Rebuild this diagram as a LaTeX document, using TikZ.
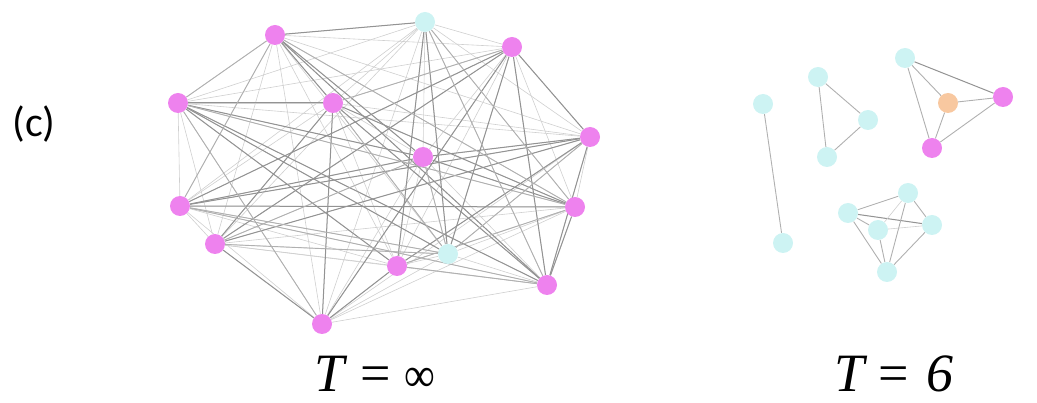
\documentclass[tikz,border=0pt]{standalone}
\usepackage{fontspec}
\newfontfamily\labfont{Carlito}
\newfontfamily\serifT{Liberation Serif}
\usetikzlibrary{backgrounds}
\definecolor{mag}{RGB}{238,130,238}
\definecolor{cya}{RGB}{205,243,243}
\definecolor{ora}{RGB}{248,200,160}
\tikzset{
  vm/.style={circle,fill=mag,inner sep=0pt,minimum size=20pt},
  vc/.style={circle,fill=cya,inner sep=0pt,minimum size=20pt},
  vo/.style={circle,fill=ora,inner sep=0pt,minimum size=20pt},
  lite/.style={draw=gray!38,line width=0.6pt},
  mid/.style={draw=gray!62,line width=0.9pt},
  dark/.style={draw=gray!85,line width=1pt},
  lab/.style={font=\serifT\fontsize{54}{60}\selectfont,anchor=base,inner sep=0pt},
}
\begin{document}
\begin{tikzpicture}[x=1pt,y=-1pt]
\useasboundingbox (0,0) rectangle (1037,403);
% left graph nodes
\node[vm] (n1) at (275,35) {};
\node[vc] (n2) at (425,22) {};
\node[vm] (n3) at (512,47) {};
\node[vm] (n4) at (178,103) {};
\node[vm] (n5) at (333,103) {};
\node[vm] (n6) at (590,137) {};
\node[vm] (n7) at (423,157) {};
\node[vm] (n8) at (180,206) {};
\node[vm] (n9) at (575,207) {};
\node[vm] (n10) at (215,244) {};
\node[vm] (n11) at (397,266) {};
\node[vc] (n12) at (448,254) {};
\node[vm] (n13) at (547,285) {};
\node[vm] (n14) at (322,324) {};
% right nodes
\node[vc] (a) at (763,104) {};
\node[vc] (b) at (783,243) {};
\node[vc] (c) at (818,77) {};
\node[vc] (d) at (868,120) {};
\node[vc] (e) at (827,157) {};
\node[vc] (f) at (905,58) {};
\node[vo] (g) at (948,103) {};
\node[vm] (h) at (1003,97) {};
\node[vm] (i) at (932,148) {};
\node[vc] (j) at (848,213) {};
\node[vc] (k) at (908,193) {};
\node[vc] (l) at (932,225) {};
\node[vc] (m) at (878,230) {};
\node[vc] (nn) at (887,272) {};
\begin{pgfonlayer}{background}
\foreach \p in {1,...,14}{
  \foreach \q in {1,...,14}{
    \ifnum\p<\q \draw[lite] (n\p) -- (n\q); \fi
  }
}
\foreach \p/\q in {1/2,1/5,1/7,4/5,4/11,4/7,4/13,8/3,8/6,8/7,8/9,10/3,10/6,10/14,
  14/11,14/3,3/13,2/12,2/11,7/6,5/13,5/10,11/6,12/3,14/5,9/5,6/13,9/13,3/6,7/9,4/12,1/13}
  \draw[dark] (n\p) -- (n\q);
\foreach \p/\q in {1/4,1/8,1/9,2/9,2/13,3/5,4/9,5/12,7/10,7/12,8/12,9/11,10/12,11/13,12/6,4/14,8/13}
  \draw[mid] (n\p) -- (n\q);
% right edges
\draw[mid] (a) -- (b);
\draw[mid] (c) -- (d) (d) -- (e) (c) -- (e);
\draw[dark] (f) -- (h);
\draw[mid] (f) -- (g) (f) -- (i) (g) -- (h) (g) -- (i) (i) -- (h);
\draw[dark] (j) -- (l);
\draw[mid] (j) -- (k) (j) -- (m) (j) -- (nn) (k) -- (l) (k) -- (nn) (m) -- (nn) (l) -- (nn);
\draw[lite] (k) -- (m) (m) -- (l);
\end{pgfonlayer}
% labels
\node[font=\labfont\fontsize{42}{48}\selectfont] (lc) at (34,124) {(c)};
\node[lab] (t1) at (375,392) {\itshape T\hspace{16pt}\upshape=\hspace{14pt}\scalebox{0.8}[0.9]{∞}};
\node[lab] (t2) at (894,392) {\itshape T\hspace{14pt}\upshape=\hspace{18pt}\itshape 6};
\end{tikzpicture}
\end{document}
